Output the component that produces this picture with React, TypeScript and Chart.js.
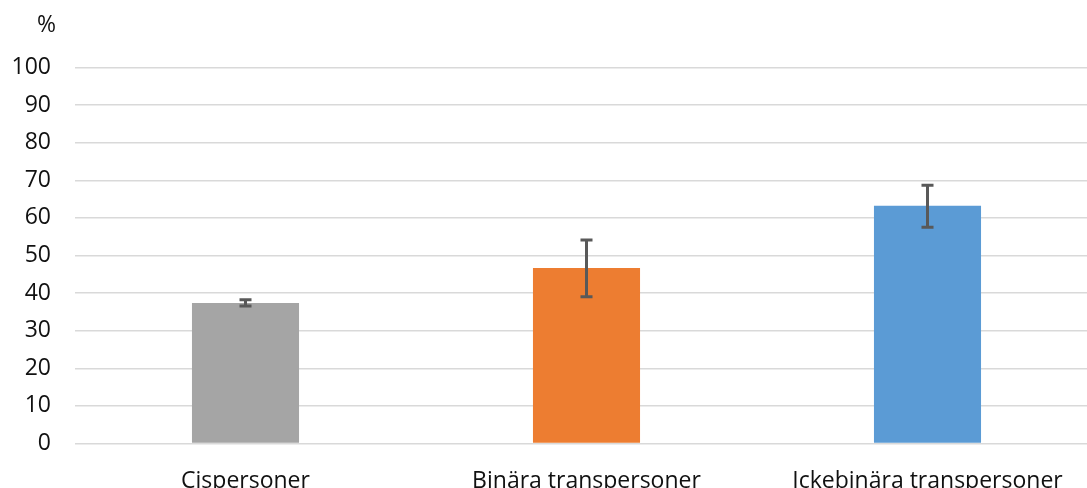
import React, { useEffect, useRef } from "react";
import { Chart, registerables } from "chart.js";

Chart.register(...registerables);

const categories = ["Cispersoner", "Binära transpersoner", "Ickebinära transpersoner"];
const values = [37.4, 46.7, 63.2];
const errLow = [36.6, 39.0, 57.5];
const errHigh = [38.2, 54.1, 68.7];
const barColors = ["#A5A5A5", "#ED7D31", "#5B9BD5"];
const yTitle = "%";

const W = 1100;
const H = 500;

const errorBarPlugin = {
  id: "errorBars",
  afterDatasetsDraw(chart: any) {
    const ctx = chart.ctx;
    const meta = chart.getDatasetMeta(0);
    const ys = chart.scales.y;
    ctx.save();
    ctx.strokeStyle = "#595959";
    ctx.lineWidth = 3;
    meta.data.forEach((bar: any, i: number) => {
      const x = bar.x;
      const yHi = ys.getPixelForValue(errHigh[i]);
      const yLo = ys.getPixelForValue(errLow[i]);
      ctx.beginPath();
      ctx.moveTo(x, yHi);
      ctx.lineTo(x, yLo);
      ctx.moveTo(x - 6, yHi);
      ctx.lineTo(x + 6, yHi);
      ctx.moveTo(x - 6, yLo);
      ctx.lineTo(x + 6, yLo);
      ctx.stroke();
    });
    ctx.restore();
  },
};

const percentPlugin = {
  id: "percentLabel",
  afterDraw(chart: any) {
    const ctx = chart.ctx;
    const ys = chart.scales.y;
    ctx.save();
    ctx.font = "23px 'Open Sans'";
    ctx.fillStyle = "#111";
    ctx.textAlign = "center";
    ctx.textBaseline = "middle";
    ctx.fillText(yTitle, ys.right - 28.5, chart.chartArea.top - 42);
    ctx.restore();
  },
};

export default function App() {
  const ref = useRef<HTMLCanvasElement>(null);
  useEffect(() => {
    if (!ref.current) return;
    const chart = new Chart(ref.current, {
      type: "bar",
      data: {
        labels: categories,
        datasets: [
          {
            data: values,
            backgroundColor: barColors,
            borderWidth: 0,
            categoryPercentage: 1,
            barPercentage: 0.314,
          },
        ],
      },
      options: {
        responsive: false,
        animation: false,
        devicePixelRatio: 1,
        layout: { padding: { top: 67.5, right: 2, left: 0, bottom: 0 } },
        plugins: { legend: { display: false }, tooltip: { enabled: false } },
        scales: {
          x: {
            grid: { display: false, drawTicks: false },
            border: { display: false },
            ticks: { color: "#111", font: { family: "'Open Sans'", size: 23 }, padding: 24, maxRotation: 0 },
            afterFit: (s: any) => {
              s.height = H - 443.5;
            },
          },
          y: {
            min: 0,
            max: 100,
            grid: { color: "#d9d9d9", lineWidth: 1.5, drawTicks: false },
            border: { display: false },
            ticks: { stepSize: 10, color: "#111", font: { family: "'Open Sans'", size: 23 }, padding: 24 },
            afterFit: (s: any) => {
              s.width = 75;
            },
          },
        },
      },
      plugins: [errorBarPlugin, percentPlugin],
    });
    return () => chart.destroy();
  }, []);
  return (
    <div style={{ position: "fixed", left: 0, top: 0, width: W, height: H, background: "#fff" }}>
      <canvas ref={ref} width={W} height={H} style={{ width: W, height: H, display: "block" }} />
    </div>
  );
}
